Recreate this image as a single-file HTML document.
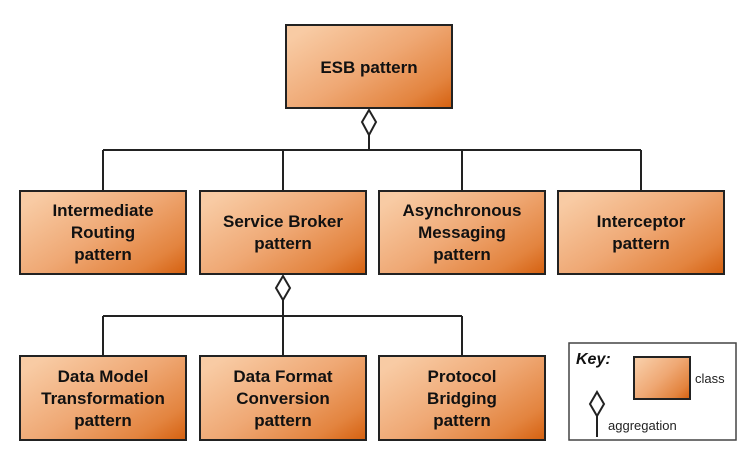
<!DOCTYPE html>
<html><head><style>body{margin:0;background:#fff}svg{display:block}</style></head><body>
<svg width="755" height="455" viewBox="0 0 755 455" xmlns="http://www.w3.org/2000/svg" font-family="Liberation Sans, Arial, sans-serif">
<defs>
<linearGradient id="g" x1="0" y1="0.2" x2="1" y2="1">
<stop offset="0" stop-color="#f8cba4"/>
<stop offset="0.45" stop-color="#efa874"/>
<stop offset="0.8" stop-color="#e3843f"/>
<stop offset="1" stop-color="#d5600f"/>
</linearGradient>
</defs>
<g fill="none" stroke="#222" stroke-width="2">
<path d="M369 135V150M103 150H641M103 150V191M283 150V191M462 150V191M641 150V191"/>
<path d="M283 300V316M103 316H462M103 316V356M283 316V356M462 316V356"/>
<path d="M597 416V437"/>
</g>
<g fill="#fff" stroke="#222" stroke-width="2">
<path d="M369 110L376 122L369 135L362 122Z"/>
<path d="M283 276L290 288L283 300L276 288Z"/>
<path d="M597 392L604 404L597 416L590 404Z"/>
</g>
<g fill="url(#g)" stroke="#222" stroke-width="2">
<rect x="286" y="25" width="166" height="83"/>
<rect x="20" y="191" width="166" height="83"/>
<rect x="200" y="191" width="166" height="83"/>
<rect x="379" y="191" width="166" height="83"/>
<rect x="558" y="191" width="166" height="83"/>
<rect x="20" y="356" width="166" height="84"/>
<rect x="200" y="356" width="166" height="84"/>
<rect x="379" y="356" width="166" height="84"/>
<rect x="634" y="357" width="56" height="42"/>
</g>
<rect x="569" y="343" width="167" height="97" fill="none" stroke="#444" stroke-width="1.5"/>
<g font-weight="bold" font-size="17" fill="#111" text-anchor="middle">
<text x="369" y="73">ESB pattern</text>
<text x="103" y="216">Intermediate</text><text x="103" y="238">Routing</text><text x="103" y="260">pattern</text>
<text x="283" y="227">Service Broker</text><text x="283" y="249">pattern</text>
<text x="462" y="216">Asynchronous</text><text x="462" y="238">Messaging</text><text x="462" y="260">pattern</text>
<text x="641" y="227">Interceptor</text><text x="641" y="249">pattern</text>
<text x="103" y="382">Data Model</text><text x="103" y="404">Transformation</text><text x="103" y="426">pattern</text>
<text x="283" y="382">Data Format</text><text x="283" y="404">Conversion</text><text x="283" y="426">pattern</text>
<text x="462" y="382">Protocol</text><text x="462" y="404">Bridging</text><text x="462" y="426">pattern</text>
</g>
<text x="576" y="364" font-size="16" font-weight="bold" font-style="italic" fill="#111">Key:</text>
<text x="695" y="383" font-size="13" fill="#222">class</text>
<text x="608" y="430" font-size="13" fill="#222">aggregation</text>
</svg>
</body></html>
